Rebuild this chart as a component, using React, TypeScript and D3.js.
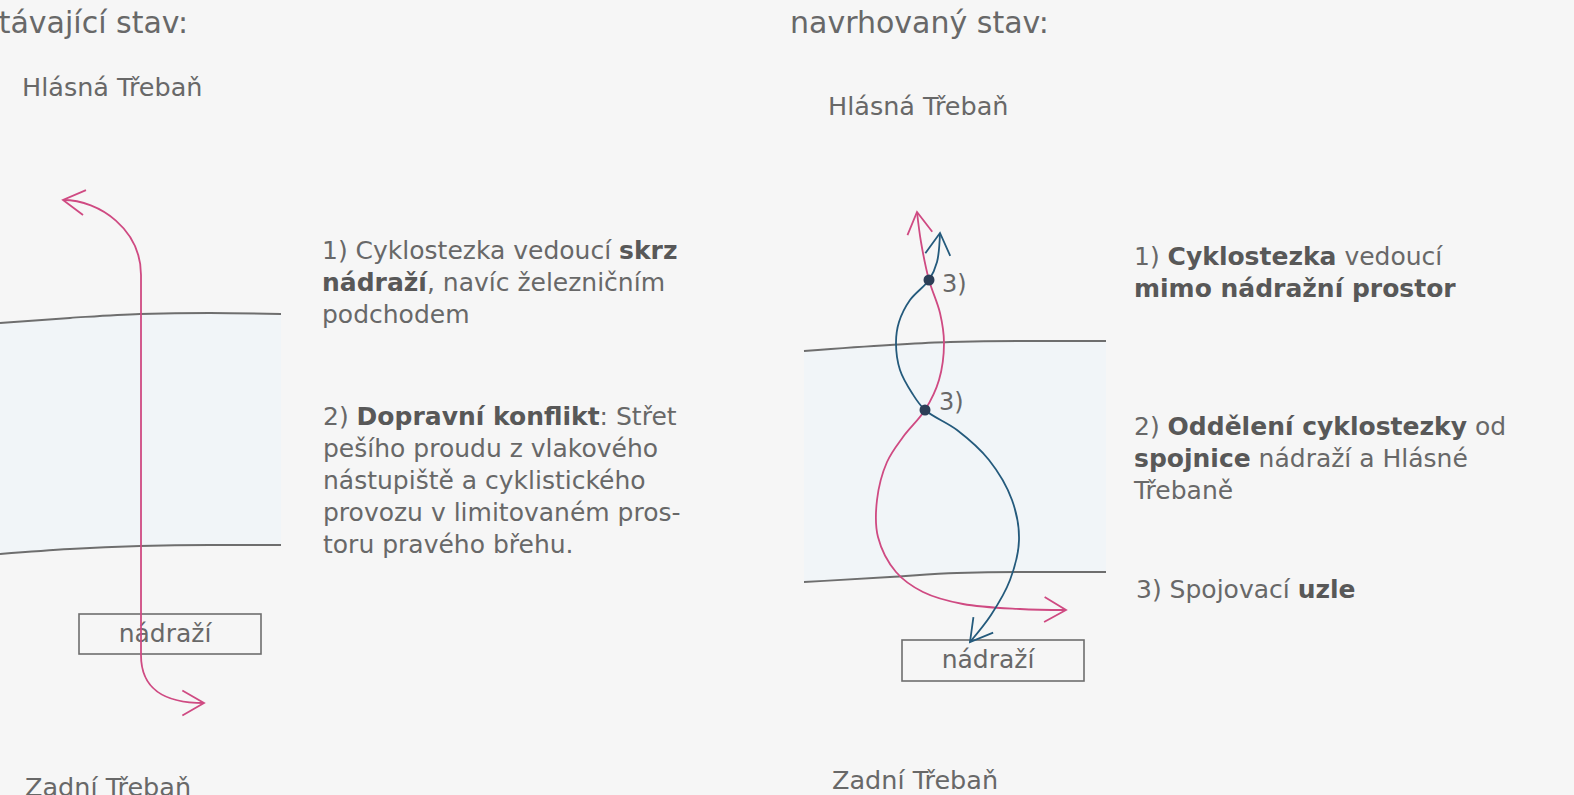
import React from "react";
import * as d3 from "d3";

// ---- data ----
type Seg = [string, boolean];
const titleLeft = "Stávající stav:";
const titleRight = "navrhovaný stav:";
const placeTop = "Hlásná Třebaň";
const placeBottom = "Zadní Třebaň";
const stationLabel = "nádraží";
const nodeLabel = "3)";

const leftNotes: Seg[][] = [
  [["1) Cyklostezka vedoucí ", false], ["skrz", true]],
  [["nádraží", true], [", navíc železničním", false]],
  [["podchodem", false]],
];
const leftNotes2: Seg[][] = [
  [["2) ", false], ["Dopravní konflikt", true], [": Střet", false]],
  [["pešího proudu z vlakového", false]],
  [["nástupiště a cyklistického", false]],
  [["provozu v limitovaném pros-", false]],
  [["toru pravého břehu.", false]],
];
const rightNotes1: Seg[][] = [
  [["1) ", false], ["Cyklostezka", true], [" vedoucí", false]],
  [["mimo nádražní prostor", true]],
];
const rightNotes2: Seg[][] = [
  [["2) ", false], ["Oddělení cyklostezky", true], [" od", false]],
  [["spojnice", true], [" nádraží a Hlásné", false]],
  [["Třebaně", false]],
];
const rightNotes3: Seg[][] = [[["3) Spojovací ", false], ["uzle", true]]];

// river banks (x, y)
const leftBankTop: [number, number][] = [[0, 323], [70, 318], [140, 314], [210, 313], [281, 314]];
const leftBankBottom: [number, number][] = [[0, 554], [70, 549], [140, 546], [210, 545], [281, 545]];
const rightBankTop: [number, number][] = [[804, 351], [890, 345], [950, 342], [1023, 341], [1106, 341]];
const rightBankBottom: [number, number][] = [[804, 582], [890, 577], [957, 573], [1023, 572], [1106, 572]];

// existing route: arrow end (top), top bend, bottom bend, arrow end (bottom), with bezier controls
const leftRouteStart: [number, number] = [63, 200];
const leftRouteTopCtrl: [number, number][] = [[100, 200], [141, 230]];
const leftRouteTopBend: [number, number] = [141, 275];
const leftRouteBottomBend: [number, number] = [141, 655];
const leftRouteBottomCtrl: [number, number][] = [[141, 690], [165, 703]];
const leftRouteEnd: [number, number] = [204, 703];

const pinkRoute: [number, number][] = [
  [917, 212], [921, 242], [929, 280], [940, 313], [944, 343], [939, 380], [925, 410], [903, 437],
  [887, 462], [877, 500], [878, 537], [896, 572], [923, 592], [963, 604], [1020, 609], [1066, 610],
];
const blueRoute: [number, number][] = [
  [940, 233], [937, 262], [929, 280], [910, 300], [899, 322], [896, 343], [900, 370], [912, 393],
  [925, 410], [957, 430], [989, 460], [1012, 500], [1019, 540], [1010, 580], [991, 615], [970, 642],
];
const nodes: [number, number][] = [[929, 280], [925, 410]];
const stations = [
  { x: 79, y: 614, w: 182, h: 40 },
  { x: 902, y: 640, w: 182, h: 41 },
];

const PINK = "#cf4a82";
const BLUE = "#245a7c";
const TEXT = "#686868";
const BOLD = "#585858";
const LINE = "#6e6e6e";
const FONT = "'DejaVu Sans', sans-serif";

const curve = d3.line<[number, number]>().x(d => d[0]).y(d => d[1]).curve(d3.curveCatmullRom.alpha(0.5));
const bank = d3.line<[number, number]>().x(d => d[0]).y(d => d[1]).curve(d3.curveMonotoneX);

function leftRoutePath() {
  const p = d3.path();
  p.moveTo(leftRouteStart[0], leftRouteStart[1]);
  p.bezierCurveTo(leftRouteTopCtrl[0][0], leftRouteTopCtrl[0][1], leftRouteTopCtrl[1][0], leftRouteTopCtrl[1][1], leftRouteTopBend[0], leftRouteTopBend[1]);
  p.lineTo(leftRouteBottomBend[0], leftRouteBottomBend[1]);
  p.bezierCurveTo(leftRouteBottomCtrl[0][0], leftRouteBottomCtrl[0][1], leftRouteBottomCtrl[1][0], leftRouteBottomCtrl[1][1], leftRouteEnd[0], leftRouteEnd[1]);
  return p.toString();
}

function arrowHead(tip: [number, number], prev: [number, number], len = 25, ang = 30) {
  const a = Math.atan2(prev[1] - tip[1], prev[0] - tip[0]);
  const r = (ang * Math.PI) / 180;
  const p1 = [tip[0] + len * Math.cos(a + r), tip[1] + len * Math.sin(a + r)];
  const p2 = [tip[0] + len * Math.cos(a - r), tip[1] + len * Math.sin(a - r)];
  return `M${p1[0]},${p1[1]}L${tip[0]},${tip[1]}L${p2[0]},${p2[1]}`;
}

function band(top: [number, number][], bottom: [number, number][]) {
  const area = d3.area<number>()
    .x((_, i) => top[i][0])
    .y0((_, i) => top[i][1])
    .y1((_, i) => bottom[i][1])
    .curve(d3.curveMonotoneX);
  return area(top.map((_, i) => i)) || "";
}

function Notes({ lines, x, y, dy, size }: { lines: Seg[][]; x: number; y: number; dy: number; size: number }) {
  return (
    <g>
      {lines.map((line, i) => (
        <text key={i} x={x} y={y + i * dy} fontSize={size} fontFamily={FONT} fill={TEXT}>
          {line.map(([t, b], j) => (
            <tspan key={j} fontWeight={b ? "bold" : "normal"} fill={b ? BOLD : TEXT}>{t}</tspan>
          ))}
        </text>
      ))}
    </g>
  );
}

export default function App() {
  const W = 1574, H = 795;
  const n = (r: [number, number][]) => r.length;
  const sw = 1.8;
  return (
    <div style={{ position: "fixed", left: 0, top: 0 }}>
      <svg width={W} height={H} style={{ display: "block" }}>
        <rect width={W} height={H} fill="#f6f6f6" />
        {/* rivers */}
        <path d={band(leftBankTop, leftBankBottom)} fill="#f1f5f8" />
        <path d={band(rightBankTop, rightBankBottom)} fill="#f1f5f8" />
        {[leftBankTop, leftBankBottom, rightBankTop, rightBankBottom].map((b, i) => (
          <path key={i} d={bank(b) || ""} fill="none" stroke={LINE} strokeWidth={1.8} />
        ))}
        {/* stations */}
        {stations.map((s, i) => (
          <g key={i}>
            <rect x={s.x} y={s.y} width={s.w} height={s.h} fill="none" stroke={LINE} strokeWidth={1.6} />
            <text x={s.x + s.w / 2 - 5} y={s.y + 28} textAnchor="middle" fontSize={25} fontFamily={FONT} fill={TEXT}>{stationLabel}</text>
          </g>
        ))}
        {/* left route */}
        <path d={leftRoutePath()} fill="none" stroke={PINK} strokeWidth={sw} />
        <path d={arrowHead(leftRouteStart, [leftRouteStart[0] + 25, leftRouteStart[1] + 3])} fill="none" stroke={PINK} strokeWidth={sw} />
        <path d={arrowHead(leftRouteEnd, leftRouteBottomCtrl[1])} fill="none" stroke={PINK} strokeWidth={sw} />
        {/* right routes */}
        <path d={curve(pinkRoute) || ""} fill="none" stroke={PINK} strokeWidth={sw} />
        <path d={arrowHead(pinkRoute[0], pinkRoute[1])} fill="none" stroke={PINK} strokeWidth={sw} />
        <path d={arrowHead(pinkRoute[n(pinkRoute) - 1], pinkRoute[n(pinkRoute) - 2])} fill="none" stroke={PINK} strokeWidth={sw} />
        <path d={curve(blueRoute) || ""} fill="none" stroke={BLUE} strokeWidth={sw} />
        <path d={arrowHead(blueRoute[0], blueRoute[1])} fill="none" stroke={BLUE} strokeWidth={sw} />
        <path d={arrowHead(blueRoute[n(blueRoute) - 1], blueRoute[n(blueRoute) - 2])} fill="none" stroke={BLUE} strokeWidth={sw} />
        {nodes.map((p, i) => (
          <circle key={i} cx={p[0]} cy={p[1]} r={5.5} fill="#2c3e56" />
        ))}
        <text x={942} y={292} fontSize={24} fontFamily={FONT} fill={TEXT}>{nodeLabel}</text>
        <text x={939} y={410} fontSize={24} fontFamily={FONT} fill={TEXT}>{nodeLabel}</text>
        {/* titles */}
        <text x={188} y={33} textAnchor="end" fontSize={30} fontFamily={FONT} fill={TEXT}>{titleLeft}</text>
        <text x={790} y={33} fontSize={30} fontFamily={FONT} fill={TEXT}>{titleRight}</text>
        <text x={22} y={96} fontSize={25.5} fontFamily={FONT} fill={TEXT}>{placeTop}</text>
        <text x={828} y={115} fontSize={25.5} fontFamily={FONT} fill={TEXT}>{placeTop}</text>
        <text x={25} y={796} fontSize={25.5} fontFamily={FONT} fill={TEXT}>{placeBottom}</text>
        <text x={832} y={789} fontSize={25.5} fontFamily={FONT} fill={TEXT}>{placeBottom}</text>
        {/* notes */}
        <Notes lines={leftNotes} x={322} y={259} dy={32} size={25} />
        <Notes lines={leftNotes2} x={323} y={425} dy={32} size={25} />
        <Notes lines={rightNotes1} x={1134} y={265} dy={32} size={25} />
        <Notes lines={rightNotes2} x={1134} y={435} dy={32} size={25} />
        <Notes lines={rightNotes3} x={1136} y={598} dy={32} size={25} />
      </svg>
    </div>
  );
}
